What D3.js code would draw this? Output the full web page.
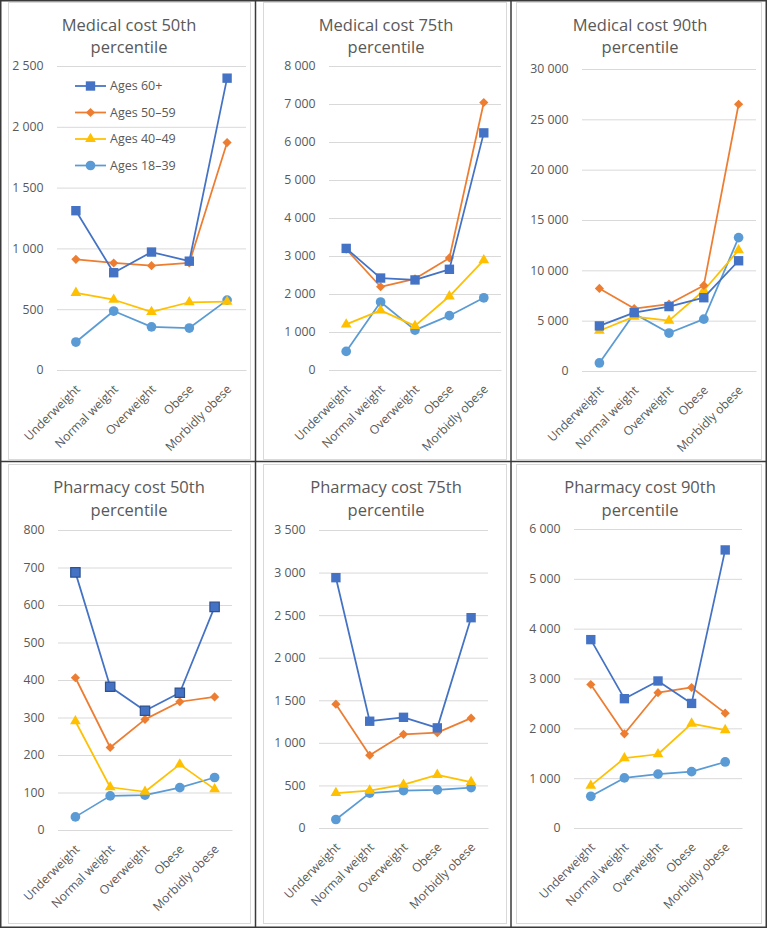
<!DOCTYPE html>
<html>
<head>
<meta charset="utf-8">
<script src="https://cdn.jsdelivr.net/npm/d3@7"></script>
<style>
  html, body { margin: 0; padding: 0; background: #fff; }
  svg text { font-family: "Open Sans", "Liberation Sans", Arial, sans-serif; fill: #595959; }
</style>
</head>
<body>
<svg id="chart" width="767" height="928"></svg>
<script>
// ---------------- DATA ----------------
const categories = ["Underweight", "Normal weight", "Overweight", "Obese", "Morbidly obese"];
const seriesNames = ["Ages 60+", "Ages 50–59", "Ages 40–49", "Ages 18–39"];
const titles = [
  ["Medical cost 50th", "percentile"],
  ["Medical cost 75th", "percentile"],
  ["Medical cost 90th", "percentile"],
  ["Pharmacy cost 50th", "percentile"],
  ["Pharmacy cost 75th", "percentile"],
  ["Pharmacy cost 90th", "percentile"]
];
// each: [Ages 60+, Ages 50–59, Ages 40–49, Ages 18–39]
const medical50 = [
  [1310, 800, 970, 895, 2400],
  [910, 880, 858, 880, 1870],
  [635, 578, 478, 557, 562],
  [230, 485, 355, 345, 575]
];
const medical75 = [
  [3200, 2420, 2370, 2650, 6240],
  [3180, 2190, 2400, 2950, 7040],
  [1200, 1570, 1160, 1940, 2890],
  [490, 1790, 1050, 1430, 1900]
];
const medical90 = [
  [4480, 5800, 6400, 7280, 10950],
  [8200, 6200, 6650, 8500, 26500],
  [4000, 5400, 5000, 8000, 12000],
  [800, 5700, 3770, 5150, 13250]
];
const pharmacy50 = [
  [687, 382, 318, 366, 595],
  [406, 220, 295, 342, 355],
  [290, 114, 102, 175, 109],
  [35, 91, 93, 113, 140]
];
const pharmacy75 = [
  [2940, 1254, 1300, 1176, 2470],
  [1454, 854, 1100, 1120, 1290],
  [411, 440, 509, 625, 540],
  [100, 410, 439, 447, 475]
];
const pharmacy90 = [
  [3780, 2595, 2950, 2500, 5580],
  [2880, 1890, 2715, 2820, 2305],
  [850, 1400, 1480, 2096, 1965],
  [636, 1005, 1080, 1130, 1325]
];
const medical50Ticks = [0, 500, 1000, 1500, 2000, 2500];
const medical75Ticks = [0, 1000, 2000, 3000, 4000, 5000, 6000, 7000, 8000];
const medical90Ticks = [0, 5000, 10000, 15000, 20000, 25000, 30000];
const pharmacy50Ticks = [0, 100, 200, 300, 400, 500, 600, 700, 800];
const pharmacy75Ticks = [0, 500, 1000, 1500, 2000, 2500, 3000, 3500];
const pharmacy90Ticks = [0, 1000, 2000, 3000, 4000, 5000, 6000];

// ---------------- STYLE / LAYOUT ----------------
const FONT = '"Open Sans", "Liberation Sans", Arial, sans-serif';
const colors = ["#4472C4", "#ED7D31", "#FFC000", "#5B9BD5"];
const symbols = ["square", "diamond", "triangle", "circle"];

const panels = [
  { data: medical50, ticks: medical50Ticks, title: titles[0], box: [8, 2, 250, 459], plot: { l: 57, r: 246, t: 66, b: 370 }, tx: 129, ty: 30.7, legend: true },
  { data: medical75, ticks: medical75Ticks, title: titles[1], box: [263, 2, 506, 459], plot: { l: 329, r: 501, t: 66, b: 370 }, tx: 386, ty: 30.7 },
  { data: medical90, ticks: medical90Ticks, title: titles[2], box: [516, 2, 761, 459], plot: { l: 582, r: 756, t: 69, b: 371 }, tx: 640, ty: 30.7 },
  { data: pharmacy50, ticks: pharmacy50Ticks, title: titles[3], box: [8, 464, 250, 923], plot: { l: 58, r: 232, t: 530, b: 830 }, tx: 129, ty: 493.3, darkSquare: true },
  { data: pharmacy75, ticks: pharmacy75Ticks, title: titles[4], box: [263, 464, 506, 923], plot: { l: 319, r: 488, t: 530, b: 828 }, tx: 386, ty: 493.3 },
  { data: pharmacy90, ticks: pharmacy90Ticks, title: titles[5], box: [516, 464, 761, 923], plot: { l: 574, r: 742, t: 529, b: 828 }, tx: 640, ty: 493.3 }
];

const fmt = d3.formatLocale({ decimal: ".", thousands: " ", grouping: [3], currency: ["", ""] }).format(",");

const svg = d3.select("#chart");
svg.append("rect").attr("width", 767).attr("height", 928).attr("fill", "#fff");

function markerPath(type) {
  if (type === "square") return d3.symbol(d3.symbolSquare, 88)();
  if (type === "diamond") return d3.symbol(d3.symbolSquare, 42)();
  if (type === "triangle") return d3.symbol(d3.symbolTriangle, 50)();
  return d3.symbol(d3.symbolCircle, 74)();
}
function drawMarker(g, type, x, y, color, dark) {
  const p = g.append("path")
    .attr("d", markerPath(type))
    .attr("fill", color)
    .attr("transform", `translate(${x},${y})` + (type === "diamond" ? " rotate(45)" : ""));
  if (dark && type === "square") p.attr("stroke", "#2F528F").attr("stroke-width", 1.2);
}

panels.forEach(p => {
  const g = svg.append("g");
  const [bx0, by0, bx1, by1] = p.box;
  g.append("rect").attr("x", bx0 + 0.5).attr("y", by0 + 0.5)
    .attr("width", bx1 - bx0).attr("height", by1 - by0)
    .attr("fill", "#fff").attr("stroke", "#d9d9d9").attr("stroke-width", 1);

  // Title
  p.title.forEach((line, i) => {
    g.append("text").attr("x", p.tx).attr("y", p.ty + i * 22.7)
      .attr("text-anchor", "middle").attr("font-size", 16.5).text(line);
  });

  const x = d3.scaleBand().domain(categories).range([p.plot.l, p.plot.r]);
  const y = d3.scaleLinear().domain([0, d3.max(p.ticks)]).range([p.plot.b, p.plot.t]);

  // gridlines + y labels via axis
  const yAxis = d3.axisLeft(y).tickValues(p.ticks).tickFormat(fmt)
    .tickSize(-(p.plot.r - p.plot.l)).tickPadding(13.5);
  const ya = g.append("g").attr("transform", `translate(${p.plot.l},0)`).call(yAxis);
  ya.select(".domain").remove();
  ya.selectAll(".tick line").attr("stroke", "#d9d9d9").attr("stroke-width", 1);
  ya.selectAll(".tick text").attr("font-size", 12.3).attr("fill", "#595959")
    .style("font-family", FONT);

  // x axis labels
  const xAxis = d3.axisBottom(x).tickSize(0).tickPadding(0);
  const xa = g.append("g").attr("transform", `translate(0,${p.plot.b})`).call(xAxis);
  xa.select(".domain").attr("stroke", "#d9d9d9");
  xa.selectAll(".tick text")
    .attr("font-size", 12.1).attr("fill", "#595959")
    .style("font-family", FONT)
    .attr("text-anchor", "end")
    .attr("dy", 0).attr("y", 0)
    .attr("transform", "translate(5,20) rotate(-45)");

  // series, drawn last-to-first so Ages 60+ sits on top
  const line = d3.line().x((d, i) => x(categories[i]) + x.bandwidth() / 2).y(d => y(d));
  for (let s = p.data.length - 1; s >= 0; s--) {
    const vals = p.data[s];
    g.append("path").datum(vals).attr("d", line)
      .attr("fill", "none").attr("stroke", colors[s]).attr("stroke-width", 1.75)
      .attr("stroke-linejoin", "round");
    vals.forEach((v, i) => drawMarker(g, symbols[s], x(categories[i]) + x.bandwidth() / 2, y(v), colors[s], p.darkSquare));
  }

  // legend
  if (p.legend) {
    const lg = g.append("g");
    seriesNames.forEach((name, s) => {
      const ly = 86 + s * 26.5;
      lg.append("line").attr("x1", 75).attr("x2", 106).attr("y1", ly).attr("y2", ly)
        .attr("stroke", colors[s]).attr("stroke-width", 1.75);
      drawMarker(lg, symbols[s], 90.5, ly, colors[s], false);
      lg.append("text").attr("x", 110).attr("y", ly).attr("dy", "0.35em")
        .attr("font-size", 12.5).text(name);
    });
  }
});

// dark table borders
const grid = svg.append("g").attr("stroke", "#3a3a3a").attr("stroke-width", 1.5).attr("fill", "none");
grid.append("rect").attr("x", 0.75).attr("y", 0.75).attr("width", 765.5).attr("height", 926.5);
grid.append("line").attr("x1", 255.5).attr("x2", 255.5).attr("y1", 0).attr("y2", 928);
grid.append("line").attr("x1", 511).attr("x2", 511).attr("y1", 0).attr("y2", 928);
grid.append("line").attr("x1", 0).attr("x2", 767).attr("y1", 461.5).attr("y2", 461.5);
</script>
</body>
</html>
